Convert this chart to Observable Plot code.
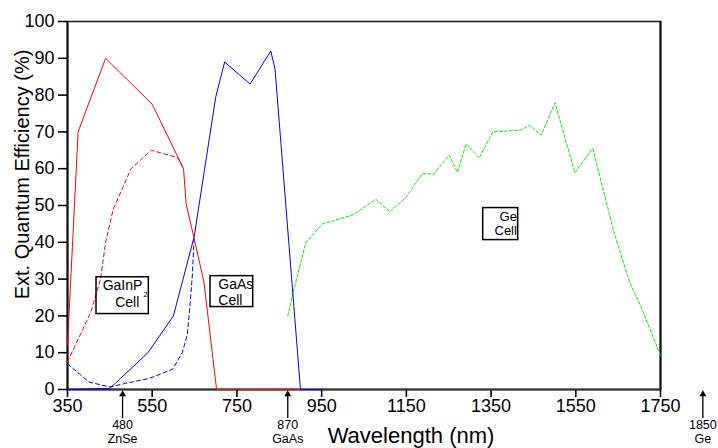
<!DOCTYPE html>
<html>
<head>
<meta charset="utf-8">
<script src="https://cdn.jsdelivr.net/npm/d3@7"></script>
<script src="https://cdn.jsdelivr.net/npm/@observablehq/plot@0.6"></script>
<style>
  html, body { margin: 0; padding: 0; background: #fff; }
  #chart svg { display: block; }
</style>
</head>
<body>
<div id="chart"></div>
<script>
// ---- data (wavelength nm, external quantum efficiency %) ----
const gaInPSolidWl = [350, 375, 440, 550, 624, 630, 649, 672, 702, 900];
const gaInPSolidQe = [12, 70, 90, 77.5, 60, 50.5, 41, 29.3, 0, 0];

const gaInPDashWl = [350, 405, 428, 440, 458, 500, 548, 610, 624];
const gaInPDashQe = [7.5, 21, 30, 40, 49, 60, 65, 63, 60];

const gaAsSolidWl = [350, 450, 540, 600, 649, 700, 721, 781, 830, 840, 900, 950];
const gaAsSolidQe = [0, 0.3, 10, 20, 41.5, 79.5, 89, 83, 92, 87, 0, 0];

const gaAsDashWl = [350, 401, 450, 500, 543, 598, 621, 633, 640, 645, 649];
const gaAsDashQe = [7, 2, 0.7, 2, 3, 5.5, 10, 15, 24, 31.5, 41.5];

const geDashWl = [870, 884, 913, 952, 1023, 1078, 1111, 1149, 1188, 1214, 1251, 1271, 1291, 1322, 1354, 1421, 1441, 1468, 1501, 1548, 1590, 1617, 1641, 1677, 1704, 1750];
const geDashQe = [20, 27, 40, 45, 47.4, 51.7, 48.3, 52.2, 58.7, 58.5, 63.7, 59, 66.8, 62.9, 70, 70.5, 71.8, 69.1, 77.9, 58.9, 65.5, 53.3, 42.4, 29.2, 22.5, 9.3];

const xTicks = [350, 550, 750, 950, 1150, 1350, 1550, 1750];
const yTicks = [0, 10, 20, 30, 40, 50, 60, 70, 80, 90, 100];

const edgeWl = [480, 870, 1850];
const edgeLabels = ["480\nZnSe", "870\nGaAs", "1850\nGe"];

const yTitle = "Ext. Quantum Efficiency (%)";
const xTitle = "Wavelength (nm)";

// ---- annotation boxes (separate from data) ----
const boxes = [
  {x1: 418.5, x2: 542, y1: 20.5, y2: 30.5},
  {x1: 687.6, x2: 788.4, y1: 22.4, y2: 30.8},
  {x1: 1331.4, x2: 1414, y1: 40.6, y2: 49.3}
];
const startTexts = [
  {t: "GaInP", x: 433, y: 28.2},
  {t: "GaAs", x: 706, y: 28.4},
  {t: "Cell", x: 706, y: 24.2}
];
const subTexts = [{t: "2", x: 529, y: 25.8}];
const middleTexts = [{t: "Cell", x: 491, y: 23.6}];
const endTexts = [
  {t: "Ge", x: 1411, y: 46.9},
  {t: "Cell", x: 1411, y: 43.0}
];

const zip = (xs, ys) => xs.map((x, i) => ({x, y: ys[i]}));

const chart = Plot.plot({
  width: 718,
  height: 448,
  marginLeft: 67,
  marginRight: 58,
  marginTop: 21,
  marginBottom: 59,
  style: {fontFamily: "'Liberation Sans', Arial, sans-serif", fontSize: "18px", color: "#000", background: "#fff"},
  x: {domain: [350, 1750], label: null},
  y: {domain: [0, 100], label: null},
  marks: [
    Plot.frame({stroke: "#222", strokeWidth: 1.6}),
    Plot.axisX({ticks: xTicks, tickSize: 8, tickPadding: 2, fontSize: 18, tickFormat: d => String(d), strokeWidth: 1.6, label: null}),
    Plot.axisY({ticks: yTicks, tickSize: 9, tickPadding: 4, fontSize: 18, strokeWidth: 1.6, label: null}),
    Plot.ruleX([350, 1750], {stroke: "#111", strokeWidth: 2}),
    Plot.ruleY([0], {stroke: "#333", strokeWidth: 2}),
    // data lines
    Plot.line(zip(gaInPDashWl, gaInPDashQe), {x: "x", y: "y", stroke: "#ff0000", strokeWidth: 1, strokeDasharray: "4,3"}),
    Plot.line(zip(gaAsDashWl, gaAsDashQe), {x: "x", y: "y", stroke: "#0000ff", strokeWidth: 1, strokeDasharray: "4,3"}),
    Plot.line(zip(geDashWl, geDashQe), {x: "x", y: "y", stroke: "#00ee00", strokeWidth: 1, strokeDasharray: "3,2"}),
    Plot.line(zip(gaAsSolidWl, gaAsSolidQe), {x: "x", y: "y", stroke: "#0000ff", strokeWidth: 1}),
    Plot.line(zip(gaInPSolidWl, gaInPSolidQe), {x: "x", y: "y", stroke: "#ff0000", strokeWidth: 1}),
    // label boxes
    Plot.rect(boxes, {x1: "x1", x2: "x2", y1: "y1", y2: "y2", fill: "none", stroke: "#000", strokeWidth: 1.5}),
    Plot.text(startTexts, {x: "x", y: "y", text: "t", textAnchor: "start", fontSize: 14, fill: "#000"}),
    Plot.text(subTexts, {x: "x", y: "y", text: "t", textAnchor: "start", fontSize: 8, fill: "#000"}),
    Plot.text(middleTexts, {x: "x", y: "y", text: "t", textAnchor: "middle", fontSize: 14, fill: "#000"}),
    Plot.text(endTexts, {x: "x", y: "y", text: "t", textAnchor: "end", fontSize: 13, fill: "#000"}),
    // band-edge arrows below the axis
    Plot.ruleX(edgeWl, {x: d => d, y1: () => -7.9, y2: () => -1.5, stroke: "#000", strokeWidth: 1.3}),
    Plot.dot(edgeWl, {x: d => d, y: () => -1.3, symbol: "triangle", r: 2.6, fill: "#000", stroke: "none"}),
    Plot.text(edgeLabels, {x: (d, i) => edgeWl[i], text: d => d, frameAnchor: "bottom", lineAnchor: "middle", dy: 42, fontSize: 12.5, lineHeight: 1.08, fill: "#000"}),
    // axis titles
    Plot.text([yTitle], {frameAnchor: "left", text: d => d, rotate: -90, textAnchor: "middle", lineAnchor: "middle", dx: -45, dy: -31, fontSize: 20, fill: "#000"}),
    Plot.text([xTitle], {frameAnchor: "bottom", text: d => d, textAnchor: "middle", lineAnchor: "middle", dx: 47, dy: 46, fontSize: 22, fill: "#000"})
  ]
});
document.getElementById("chart").appendChild(chart);
</script>
</body>
</html>
